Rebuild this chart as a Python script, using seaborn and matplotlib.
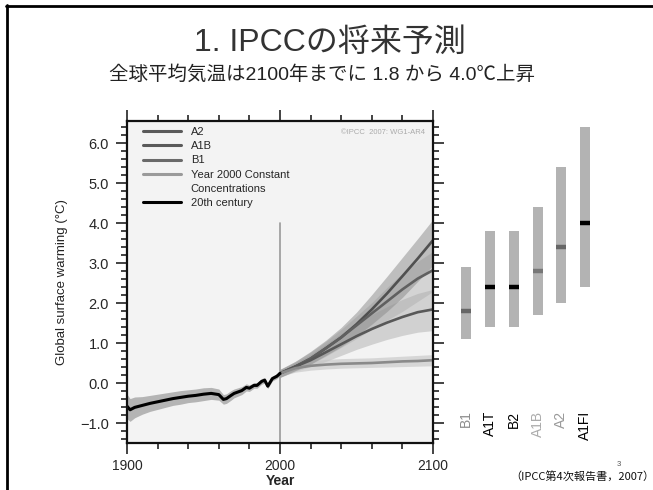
import numpy as np
import pandas as pd
import matplotlib
matplotlib.use("Agg")
import matplotlib.pyplot as plt
from matplotlib.lines import Line2D
from matplotlib.ticker import MultipleLocator, FixedLocator
import seaborn as sns

# ---------------- data ----------------
title = "1. IPCCの将来予測"
subtitle = "全球平均気温は2100年までに 1.8 から 4.0℃上昇"
source = "（IPCC第4次報告書，2007）"

years20 = [1900, 1902, 1905, 1910, 1915, 1920, 1925, 1930, 1935, 1940, 1945, 1950,
           1955, 1960, 1963, 1965, 1968, 1970, 1975, 1978, 1980, 1983, 1985, 1988,
           1990, 1992, 1995, 1998, 2000]
temp20 = [-0.57, -0.66, -0.60, -0.55, -0.50, -0.46, -0.42, -0.38, -0.35, -0.32, -0.30, -0.27,
          -0.25, -0.28, -0.40, -0.38, -0.30, -0.25, -0.18, -0.10, -0.12, -0.05, -0.05, 0.05,
          0.08, -0.07, 0.12, 0.18, 0.25]
low20 = [-0.88, -0.95, -0.86, -0.77, -0.70, -0.65, -0.60, -0.55, -0.52, -0.48, -0.46, -0.43,
         -0.40, -0.42, -0.52, -0.50, -0.42, -0.36, -0.28, -0.19, -0.20, -0.12, -0.12, -0.02,
         0.01, -0.13, 0.06, 0.12, 0.20]
high20 = [-0.27, -0.38, -0.34, -0.33, -0.30, -0.27, -0.24, -0.21, -0.18, -0.16, -0.14, -0.11,
          -0.10, -0.14, -0.28, -0.26, -0.18, -0.14, -0.08, -0.01, -0.04, 0.02, 0.02, 0.12,
          0.15, -0.01, 0.18, 0.24, 0.30]

years_f = [2000, 2010, 2020, 2030, 2040, 2050, 2060, 2070, 2080, 2090, 2100]
a2 = [0.25, 0.42, 0.62, 0.88, 1.15, 1.48, 1.85, 2.25, 2.68, 3.12, 3.58]
a2_low = [0.15, 0.32, 0.48, 0.70, 0.92, 1.18, 1.48, 1.80, 2.15, 2.55, 2.95]
a2_high = [0.35, 0.55, 0.80, 1.08, 1.40, 1.78, 2.22, 2.68, 3.15, 3.62, 4.10]
a1b = [0.25, 0.42, 0.62, 0.88, 1.15, 1.45, 1.75, 2.05, 2.35, 2.62, 2.83]
a1b_low = [0.15, 0.32, 0.48, 0.68, 0.90, 1.12, 1.35, 1.58, 1.80, 2.05, 2.30]
a1b_high = [0.35, 0.55, 0.78, 1.05, 1.35, 1.68, 2.02, 2.40, 2.75, 3.05, 3.30]
b1 = [0.25, 0.42, 0.58, 0.78, 0.98, 1.18, 1.36, 1.52, 1.66, 1.78, 1.85]
b1_low = [0.15, 0.30, 0.42, 0.55, 0.70, 0.85, 0.98, 1.10, 1.20, 1.28, 1.32]
b1_high = [0.35, 0.52, 0.72, 0.98, 1.25, 1.50, 1.72, 1.92, 2.10, 2.25, 2.35]
const = [0.25, 0.38, 0.44, 0.47, 0.49, 0.50, 0.51, 0.53, 0.55, 0.56, 0.58]
const_low = [0.18, 0.28, 0.33, 0.36, 0.38, 0.39, 0.40, 0.41, 0.42, 0.43, 0.44]
const_high = [0.32, 0.48, 0.56, 0.60, 0.62, 0.63, 0.64, 0.66, 0.68, 0.70, 0.72]

legend_labels = ["A2", "A1B", "B1", "Year 2000 Constant", "Concentrations", "20th century"]

bar_scen = ["B1", "A1T", "B2", "A1B", "A2", "A1FI"]
bar_low = [1.1, 1.4, 1.4, 1.7, 2.0, 2.4]
bar_high = [2.9, 3.8, 3.8, 4.4, 5.4, 6.4]
bar_best = [1.8, 2.4, 2.4, 2.8, 3.4, 4.0]
best_colors = ["#666666", "#000000", "#000000", "#777777", "#666666", "#000000"]
label_colors = ["#8c8c8c", "#000000", "#000000", "#ababab", "#999999", "#000000"]

xticks = [1900, 2000, 2100]
xticklabels = ["1900", "2000", "2100"]
yticks = [-1.0, 0.0, 1.0, 2.0, 3.0, 4.0, 5.0, 6.0]
yticklabels = ["\u22121.0", "0.0", "1.0", "2.0", "3.0", "4.0", "5.0", "6.0"]

# ---------------- style ----------------
sns.set_style("ticks")
plt.rcParams["font.family"] = ["Liberation Sans", "Noto Sans CJK JP", "DejaVu Sans"]

fig = plt.figure(figsize=(6.53, 4.90), dpi=100)
W, H = 653.0, 490.0

# slide frame
fig.add_artist(Line2D([7 / W, 7 / W], [0, 1 - 5 / H], color="black", lw=2.0))
fig.add_artist(Line2D([6 / W, 1], [1 - 6 / H, 1 - 6 / H], color="black", lw=2.0))

fig.text(330 / W, 1 - 43 / H, title, ha="center", va="center", fontsize=23,
         color="#333333", family=["Liberation Sans", "Noto Sans CJK JP"])
fig.text(322 / W, 1 - 75 / H, subtitle, ha="center", va="center", fontsize=14,
         color="#222222", family=["Liberation Sans", "Noto Sans CJK JP"])
fig.text(582 / W, 1 - 477 / H, source, ha="center", va="center", fontsize=8,
         color="#111111", family=["Noto Sans CJK JP"])
fig.text(619 / W, 1 - 464 / H, "3", ha="center", va="center", fontsize=5.5,
         color="#555555")

# ---------------- main axes ----------------
ax = fig.add_axes([127 / W, 47 / H, 306 / W, 322 / H])
ax.set_facecolor("#f3f3f3")

ax.fill_between(years_f, a1b_low, a1b_high, color="#b0b0b0", alpha=0.45, lw=0)
ax.fill_between(years_f, b1_low, b1_high, color="#a8a8a8", alpha=0.45, lw=0)
ax.fill_between(years_f, const_low, const_high, color="#c4c4c4", alpha=0.6, lw=0)
ax.fill_between(years_f, a2_low, a2_high, color="#8a8a8a", alpha=0.5, lw=0)
ax.fill_between(years20, low20, high20, color="#8a8a8a", alpha=0.6, lw=0)

df_f = pd.DataFrame({
    "year": years_f * 4,
    "temp": a2 + a1b + b1 + const,
    "scenario": ["A2"] * len(years_f) + ["A1B"] * len(years_f)
                + ["B1"] * len(years_f) + ["Const"] * len(years_f),
})
pal = {"A2": "#505050", "A1B": "#606060", "B1": "#585858", "Const": "#8a8a8a"}
sns.lineplot(data=df_f, x="year", y="temp", hue="scenario", palette=pal,
             linewidth=1.9, legend=False, ax=ax, estimator=None, sort=False)
df20 = pd.DataFrame({"year": years20, "temp": temp20})
sns.lineplot(data=df20, x="year", y="temp", color="black", linewidth=2.2,
             ax=ax, estimator=None, sort=False)

ax.axvline(2000, ymin=0, ymax=(4.0 + 1.49) / (6.56 + 1.49), color="#999999", lw=1.2,
           zorder=1)

ax.set_xlim(1900, 2100)
ax.set_ylim(-1.49, 6.56)
ax.xaxis.set_major_locator(FixedLocator(xticks))
ax.set_xticklabels(xticklabels)
ax.xaxis.set_minor_locator(MultipleLocator(20))
ax.yaxis.set_major_locator(FixedLocator(yticks))
ax.set_yticklabels(yticklabels)
ax.yaxis.set_minor_locator(MultipleLocator(0.2))
ax.tick_params(which="both", direction="out", top=True, right=True,
               labeltop=False, labelright=False, width=1.2, color="#222222",
               labelsize=10)
ax.tick_params(which="major", length=8)
ax.tick_params(which="minor", length=4.5)
ax.tick_params(axis="y", which="major", pad=5, labelsize=10.5)
for sp in ax.spines.values():
    sp.set_visible(True)
    sp.set_linewidth(1.6)
    sp.set_color("#111111")

ax.set_xlabel("Year", fontsize=10, fontweight="bold", labelpad=1)
ax.set_ylabel("Global surface warming (\u00b0C)", fontsize=9.5, labelpad=9,
              color="#222222")

handles = [Line2D([], [], color="#5a5a5a", lw=2.2),
           Line2D([], [], color="#5a5a5a", lw=2.2),
           Line2D([], [], color="#6a6a6a", lw=2.2),
           Line2D([], [], color="#9a9a9a", lw=2.2),
           Line2D([], [], color="none", lw=0),
           Line2D([], [], color="black", lw=2.2)]
ax.legend(handles, legend_labels, loc="upper left", bbox_to_anchor=(16 / 306, 1 - 6 / 322),
          frameon=False, fontsize=8, handlelength=3.4, handletextpad=0.9,
          labelspacing=0.38, borderaxespad=0, borderpad=0)
ax.text(0.975, 0.975, "\u00a9IPCC  2007: WG1-AR4", transform=ax.transAxes,
        ha="right", va="top", fontsize=5.5, color="#aaaaaa")

# ---------------- bar panel ----------------
ax2 = fig.add_axes([433 / W, 47 / H, 176 / W, 322 / H])
heights = list(np.subtract(bar_high, bar_low))
sns.barplot(x=bar_scen, y=heights, bottom=bar_low, color="#b3b3b3", saturation=1,
            width=0.42, edgecolor="none", ax=ax2)
xpos = np.arange(len(bar_scen))
ax2.hlines(bar_best, xpos - 0.21, xpos + 0.21, colors=best_colors, lw=3.2)
for i, (lab, c) in enumerate(zip(bar_scen, label_colors)):
    ax2.text(i, -0.68, lab, rotation=90, ha="center", va="top", fontsize=10, color=c)
ax2.set_xlim(-1.39, 6.0)
ax2.set_ylim(-1.49, 6.56)
ax2.axis("off")

fig.savefig("out.png", dpi=100)
